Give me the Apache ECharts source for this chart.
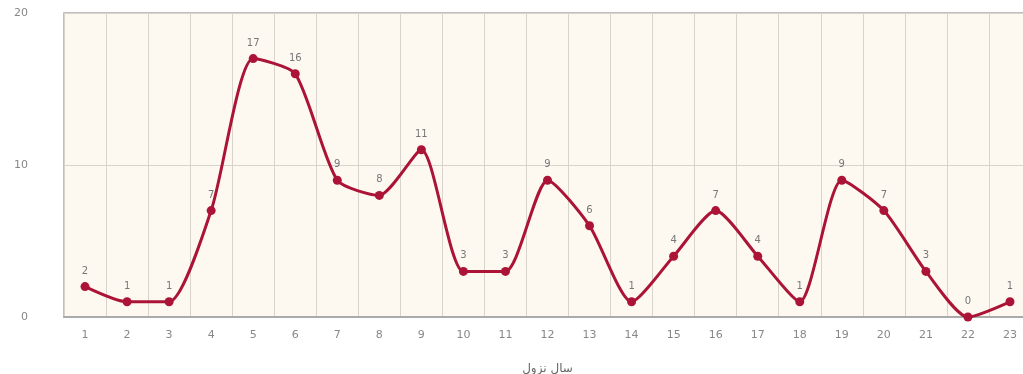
<!DOCTYPE html>
<html><head><meta charset="utf-8">
<script src="https://cdn.jsdelivr.net/npm/echarts@6/dist/echarts.min.js"></script>
<style>html,body{margin:0;padding:0;background:#fff}#c{width:1023px;height:374px}</style>
</head><body><div id="c"></div>
<script>
const categories = ['1','2','3','4','5','6','7','8','9','10','11','12','13','14','15','16','17','18','19','20','21','22','23'];
const values = [2,1,1,7,17,16,9,8,11,3,3,9,6,1,4,7,4,1,9,7,3,0,1];
const xAxisName = 'سال نزول';
const yTicks = [0, 10, 20];

const chart = echarts.init(document.getElementById('c'));
chart.setOption({
  animation: false,
  grid: { left: 64, right: -8, top: 13, bottom: 57, outerBoundsMode: 'none', containLabel: false, show: true, backgroundColor: '#fdf9f1', borderColor: '#aaaaaa', borderWidth: 1.5 },
  xAxis: {
    type: 'category', data: categories, boundaryGap: true,
    name: xAxisName, nameLocation: 'middle', nameGap: 46,
    nameTextStyle: { color: '#666', fontSize: 12, fontFamily: 'DejaVu Sans' },
    axisLine: { lineStyle: { color: '#aaa', width: 2 } },
    axisTick: { show: false },
    axisLabel: { color: '#888', fontSize: 11, margin: 13, fontFamily: 'DejaVu Sans' },
    splitLine: { show: true, lineStyle: { color: '#d8d4cc', width: 1 } }
  },
  yAxis: {
    type: 'value', min: yTicks[0], max: yTicks[2], interval: 10,
    axisLine: { show: false }, axisTick: { show: false },
    axisLabel: { color: '#888', fontSize: 11, margin: 36, fontFamily: 'DejaVu Sans' },
    splitLine: { lineStyle: { color: '#d8d4cc' } }
  },
  series: [{
    type: 'line', data: values, smooth: 0.22,
    symbol: 'circle', symbolSize: 9,
    lineStyle: { color: '#ab1436', width: 3 },
    itemStyle: { color: '#ab1436' },
    label: { show: true, position: 'top', distance: 6, color: '#777', fontSize: 10, fontFamily: 'DejaVu Sans' }
  }]
});
</script></body></html>
